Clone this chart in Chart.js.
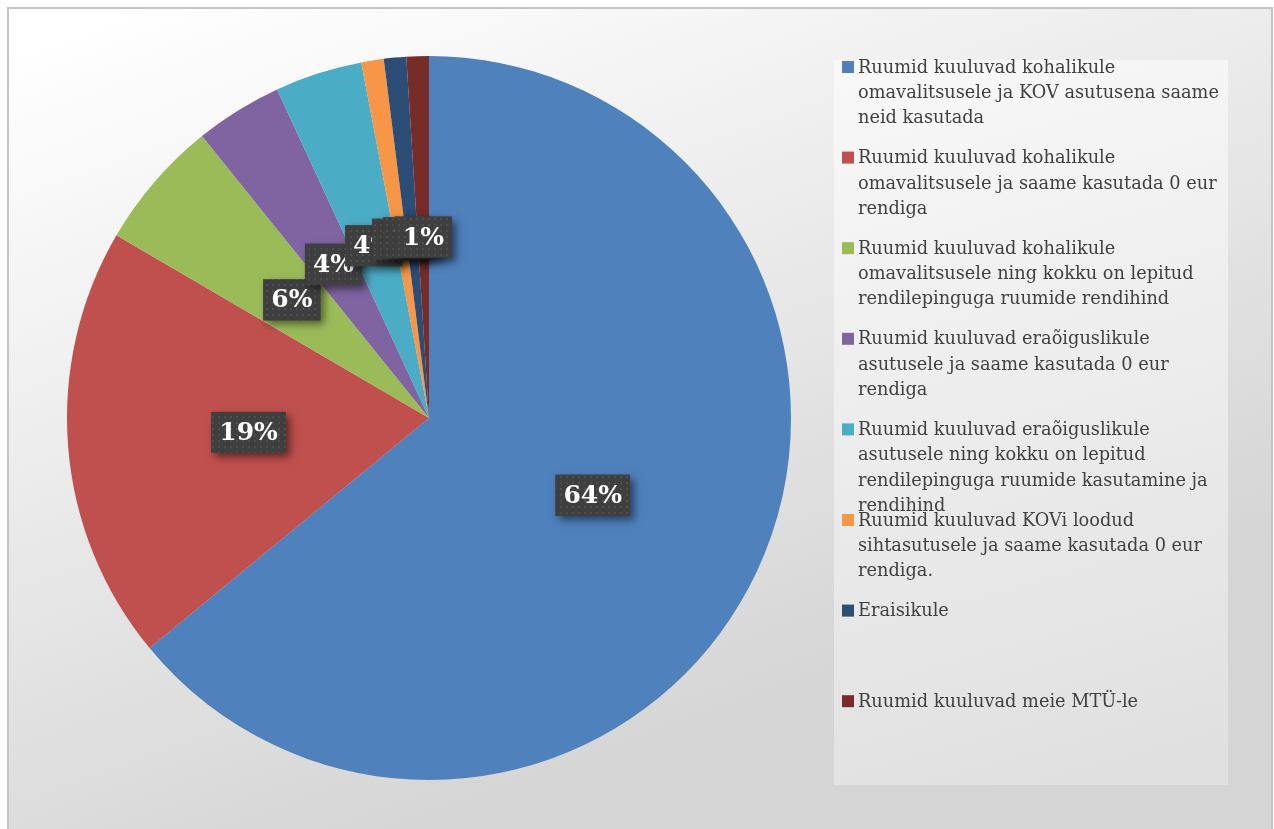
<!DOCTYPE html>
<html>
<head>
<meta charset="utf-8">
<script src="https://cdn.jsdelivr.net/npm/chart.js@4.4.1/dist/chart.umd.min.js"></script>
<style>
  html, body { margin: 0; padding: 0; background: #fff; }
  #wrap { width: 1274px; height: 829px; }
</style>
</head>
<body>
<div id="wrap"><canvas id="chart" width="1274" height="829"></canvas></div>
<script>
// categories, in the order the slices run clockwise from 12 o'clock
const categories = [
  'Ruumid kuuluvad kohalikule omavalitsusele ja KOV asutusena saame neid kasutada',
  'Ruumid kuuluvad kohalikule omavalitsusele ja saame kasutada 0 eur rendiga',
  'Ruumid kuuluvad kohalikule omavalitsusele ning kokku on lepitud rendilepinguga ruumide rendihind',
  'Ruumid kuuluvad eraõiguslikule asutusele ja saame kasutada 0 eur rendiga',
  'Ruumid kuuluvad eraõiguslikule asutusele ning kokku on lepitud rendilepinguga ruumide kasutamine ja rendihind',
  'Ruumid kuuluvad KOVi loodud sihtasutusele ja saame kasutada 0 eur rendiga.',
  'Eraisikule',
  'Ruumid kuuluvad meie MTÜ-le'
];

// legend text as it wraps in the picture
const legendLines = [
  ['Ruumid kuuluvad kohalikule', 'omavalitsusele ja KOV asutusena saame', 'neid kasutada'],
  ['Ruumid kuuluvad kohalikule', 'omavalitsusele ja saame kasutada 0 eur', 'rendiga'],
  ['Ruumid kuuluvad kohalikule', 'omavalitsusele ning kokku on lepitud', 'rendilepinguga ruumide rendihind'],
  ['Ruumid kuuluvad eraõiguslikule', 'asutusele ja saame kasutada 0 eur', 'rendiga'],
  ['Ruumid kuuluvad eraõiguslikule', 'asutusele ning kokku on lepitud', 'rendilepinguga ruumide kasutamine ja', 'rendihind'],
  ['Ruumid kuuluvad KOVi loodud', 'sihtasutusele ja saame kasutada 0 eur', 'rendiga.'],
  ['Eraisikule'],
  ['Ruumid kuuluvad meie MTÜ-le']
];

// share of answers, percent
const shares = [64.1, 19.4, 5.8, 3.9, 3.9, 1.0, 1.0, 1.0];

const sliceColors = ['#4F81BD', '#C0504D', '#9BBB59', '#8064A2', '#4BACC6', '#F79646', '#2C4D75', '#772C2A'];

// dotted dark fill for the data label boxes
function makeDots(ctx) {
  const c = document.createElement('canvas');
  c.width = 6; c.height = 6;
  const g = c.getContext('2d');
  g.fillStyle = '#3f3f3f';
  g.fillRect(0, 0, 6, 6);
  g.fillStyle = '#4f4f4f';
  g.fillRect(2, 2, 2, 2);
  return ctx.createPattern(c, 'repeat');
}

const backdrop = {
  id: 'backdrop',
  beforeDraw(chart) {
    const ctx = chart.ctx;
    const W = chart.width, H = chart.height;
    ctx.save();
    ctx.fillStyle = '#ffffff';
    ctx.fillRect(0, 0, W, H);
    const bg = ctx.createLinearGradient(150, 0, 450, H);
    bg.addColorStop(0, '#ffffff');
    bg.addColorStop(1, '#d5d5d5');
    ctx.fillStyle = bg;
    ctx.fillRect(8, 8, W - 10, H - 8);
    ctx.strokeStyle = '#c4c4c4';
    ctx.lineWidth = 2;
    ctx.strokeRect(8, 8, W - 10, H);

    // legend box
    const lb = ctx.createLinearGradient(900, 60, 1100, 785);
    lb.addColorStop(0, '#f8f8f8');
    lb.addColorStop(1, '#e0e0e0');
    ctx.fillStyle = lb;
    ctx.fillRect(834, 60, 394, 725);
    ctx.restore();
  },
  afterDraw(chart) {
    const ctx = chart.ctx;
    ctx.save();
    // fit the legend font to the width of the widest line in the picture
    let size = 18;
    ctx.font = size + 'px "DejaVu Serif"';
    const w = ctx.measureText('omavalitsusele ja KOV asutusena saame').width;
    size = Math.min(18, size * 361 / w);
    ctx.font = size.toFixed(2) + 'px "DejaVu Serif"';
    ctx.textBaseline = 'middle';
    ctx.textAlign = 'left';
    legendLines.forEach((lines, i) => {
      const y0 = 67 + i * 90.6;
      ctx.fillStyle = sliceColors[i];
      ctx.fillRect(842, y0 - 6, 12, 12);
      ctx.fillStyle = '#404040';
      lines.forEach((ln, j) => ctx.fillText(ln, 858, y0 + 1 + j * 25.3));
    });
    ctx.restore();
  }
};

const sliceLabels = {
  id: 'sliceLabels',
  afterDatasetsDraw(chart) {
    const ctx = chart.ctx;
    const meta = chart.getDatasetMeta(0);
    const dots = makeDots(ctx);
    ctx.save();
    ctx.font = 'bold 25px "DejaVu Serif"';
    ctx.textAlign = 'center';
    ctx.textBaseline = 'middle';
    meta.data.forEach((arc, i) => {
      const p = arc.tooltipPosition();
      const txt = Math.round(shares[i]) + '%';
      const tw = ctx.measureText(txt).width;
      const bw = tw + 16, bh = 41;
      const x = p.x - bw / 2, y = p.y - bh / 2;
      ctx.save();
      ctx.shadowColor = 'rgba(0,0,0,0.5)';
      ctx.shadowBlur = 8;
      ctx.shadowOffsetX = 4;
      ctx.shadowOffsetY = 4;
      ctx.fillStyle = '#3f3f3f';
      ctx.fillRect(x, y, bw, bh);
      ctx.restore();
      ctx.fillStyle = dots;
      ctx.fillRect(x, y, bw, bh);
      ctx.fillStyle = '#ffffff';
      ctx.fillText(txt, p.x, p.y + 1);
    });
    ctx.restore();
  }
};

new Chart(document.getElementById('chart'), {
  type: 'pie',
  data: {
    labels: categories,
    datasets: [{
      data: shares,
      backgroundColor: sliceColors,
      borderWidth: 0
    }]
  },
  options: {
    responsive: false,
    animation: false,
    layout: { padding: { left: 67, right: 483, top: 56, bottom: 49 } },
    plugins: {
      legend: { display: false },
      tooltip: { enabled: false }
    }
  },
  plugins: [backdrop, sliceLabels]
});
</script>
</body>
</html>
